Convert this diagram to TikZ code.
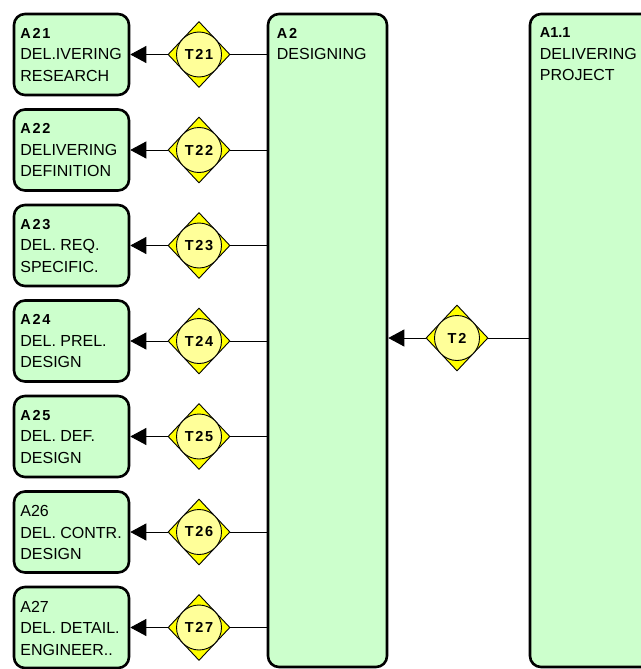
\documentclass[tikz,border=0pt]{standalone}
\usepackage{fontspec}
\setmainfont{Liberation Sans}
\usetikzlibrary{shapes.geometric,arrows.meta}
\definecolor{boxgreen}{RGB}{204,255,204}
\definecolor{diayellow}{RGB}{255,255,0}
\definecolor{circyellow}{RGB}{255,255,153}
\newcommand\lb{\fontsize{14.5}{21.5}\bfseries\addfontfeature{LetterSpace=12}}
\newcommand\lbn{\fontsize{14.5}{21.5}\bfseries}
\begin{document}
\begin{tikzpicture}[x=1pt,y=-1pt,
  actbox/.style={draw=black, line width=2.6pt, fill=boxgreen, rounded corners=11pt, inner sep=0pt},
  boxtext/.style={anchor=north west, inner sep=0pt, align=left, font=\fontsize{16}{21.5}\selectfont},
  tdia/.style={diamond, draw=black, line width=0.9pt, fill=diayellow, minimum width=62pt, minimum height=66pt, inner sep=0pt, aspect=0.94},
  tcirc/.style={circle, draw=black, line width=0.9pt, fill=circyellow, minimum size=45pt, inner sep=0pt, font=\lb},
  conn/.style={line width=0.9pt},
  arr/.style={line width=0.9pt, -{Triangle[length=16pt,width=17pt]}}
]
\useasboundingbox (0,0) rectangle (640,669);
% big boxes
\node[actbox, minimum width=119pt, minimum height=653pt] (A2) at (327.5,340.5) {};
\node[boxtext] (A2t) at ([xshift=10pt,yshift=-15pt]A2.north west) {{\lb A2}\\DESIGNING};
\node[actbox, minimum width=140pt, minimum height=653pt] (A11) at (600,340.5) {};
\node[boxtext] (A11t) at ([xshift=11pt,yshift=-15pt]A11.north west) {{\lbn A1.1}\\DELIVERING\\PROJECT};
% T2
\node[tdia] (T2) at (457,338) {};
\node[tcirc] (T2c) at (T2.center) {T2};
\draw[conn] (A11.west |- T2) -- (T2.east);
\draw[arr] (T2.west) -- (A2.east |- T2);
% left column
\foreach \i/\nm/\la/\lbb/\lc in {
  0/21/{\lb A21}/{DEL.IVERING}/{RESEARCH},
  1/22/{\lb A22}/{DELIVERING}/{DEFINITION},
  2/23/{\lb A23}/{DEL. REQ.}/{SPECIFIC.},
  3/24/{\lb A24}/{DEL. PREL.}/{DESIGN},
  4/25/{\lb A25}/{DEL. DEF.}/{DESIGN},
  5/26/{A26}/{DEL. CONTR.}/{DESIGN},
  6/27/{A27}/{DEL. DETAIL.}/{ENGINEER..}}{
  \node[actbox, minimum width=115pt, minimum height=81pt] (A\nm) at (71.5,54.5+95.5*\i) {};
  \node[boxtext] (A\nm t) at ([xshift=7.5pt,yshift=-15pt]A\nm.north west) {\la\\\lbb\\\lc};
  \node[tdia] (T\nm) at (199,54.5+95.5*\i) {};
  \node[tcirc] (T\nm c) at (T\nm.center) {T\nm};
  \draw[conn] (A2.west |- T\nm) -- (T\nm.east);
  \draw[arr] (T\nm.west) -- (A\nm.east);
}
\end{tikzpicture}
\end{document}
